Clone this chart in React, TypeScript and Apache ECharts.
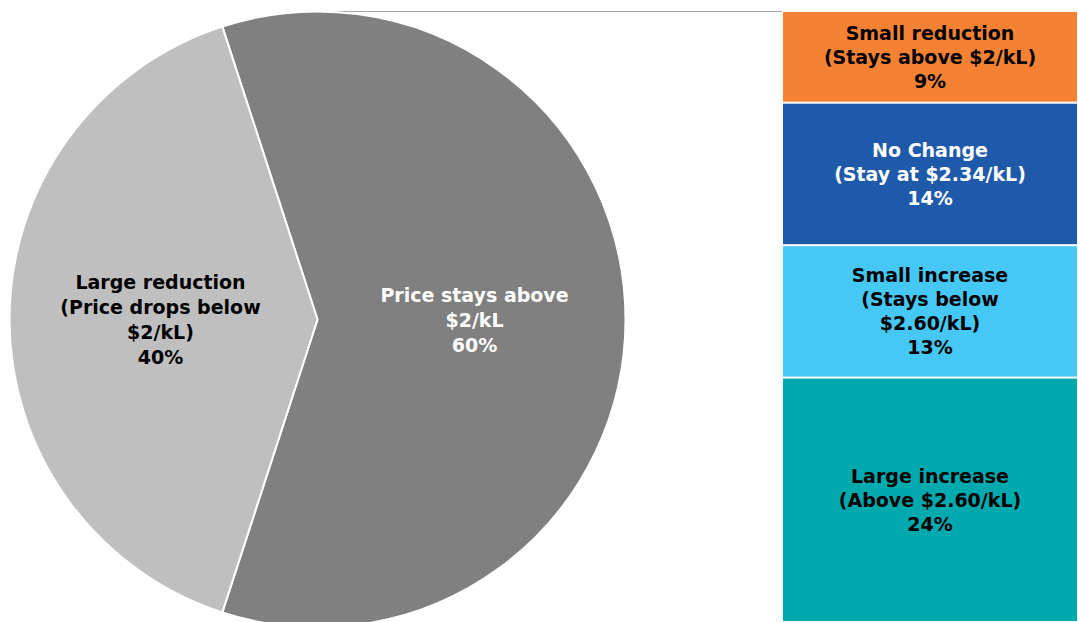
import React, { useEffect, useRef } from "react";
import * as echarts from "echarts";

const pieNames = ["Price stays above\n$2/kL", "Large reduction\n(Price drops below\n$2/kL)"];
const pieValues = [60, 40];
const pieColors = ["#808080", "#BFBFBF"];
const pieLabelColors = ["#FFFFFF", "#000000"];

const barNames = [
  "Small reduction\n(Stays above $2/kL)",
  "No Change\n(Stay at $2.34/kL)",
  "Small increase\n(Stays below\n$2.60/kL)",
  "Large increase\n(Above $2.60/kL)",
];
const barValues = [9, 14, 13, 24];
const barColors = ["#F58233", "#1F5AAA", "#45C8F5", "#00A9AD"];
const barLabelColors = ["#000000", "#FFFFFF", "#000000", "#000000"];

const FONT = "'DejaVu Sans', sans-serif";

export default function App() {
  const ref = useRef<HTMLDivElement>(null);
  useEffect(() => {
    if (!ref.current) return;
    const chart = echarts.init(ref.current, undefined, { renderer: "svg" });
    const total = barValues.reduce((a, b) => a + b, 0);
    chart.setOption({
      animation: false,
      backgroundColor: "#FFFFFF",
      grid: { left: 782, top: 11, width: 297, height: 612 },
      xAxis: { type: "category", data: ["a"], show: false },
      yAxis: { type: "value", min: 0, max: total, inverse: true, show: false },
      graphic: [
        {
          type: "line",
          shape: { x1: 318, y1: 11.5, x2: 782, y2: 11.5 },
          style: { stroke: "#A6A6A6", lineWidth: 1 },
        },
      ],
      series: [
        {
          type: "pie",
          center: [317.5, 319.5],
          radius: [0, 308],
          startAngle: 108,
          clockwise: true,
          itemStyle: { borderColor: "#FFFFFF", borderWidth: 2 },
          label: {
            show: true,
            position: "inside",
            fontFamily: FONT,
            fontWeight: "bold",
            fontSize: 19,
            lineHeight: 25,
            align: "center",
          },
          labelLine: { show: false },
          data: pieNames.map((n, i) => ({
            name: n,
            value: pieValues[i],
            itemStyle: { color: pieColors[i] },
            label: {
              color: pieLabelColors[i],
              formatter: (p: any) => `${p.name}\n${p.value}%`,
            },
          })),
        },
        ...barNames.map((n, i) => ({
          type: "bar",
          stack: "s",
          name: n,
          barWidth: "100%",
          data: [barValues[i]],
          itemStyle: { color: barColors[i], borderColor: "#FFFFFF", borderWidth: 1 },
          label: {
            show: true,
            position: "inside",
            color: barLabelColors[i],
            fontFamily: FONT,
            fontWeight: "bold",
            fontSize: 19,
            lineHeight: 24,
            align: "center",
            formatter: () => `${n}\n${barValues[i]}%`,
          },
        })),
      ],
    });
    return () => chart.dispose();
  }, []);
  return (
    <div
      ref={ref}
      style={{ position: "fixed", left: 0, top: 0, width: 1078, height: 622 }}
    />
  );
}
